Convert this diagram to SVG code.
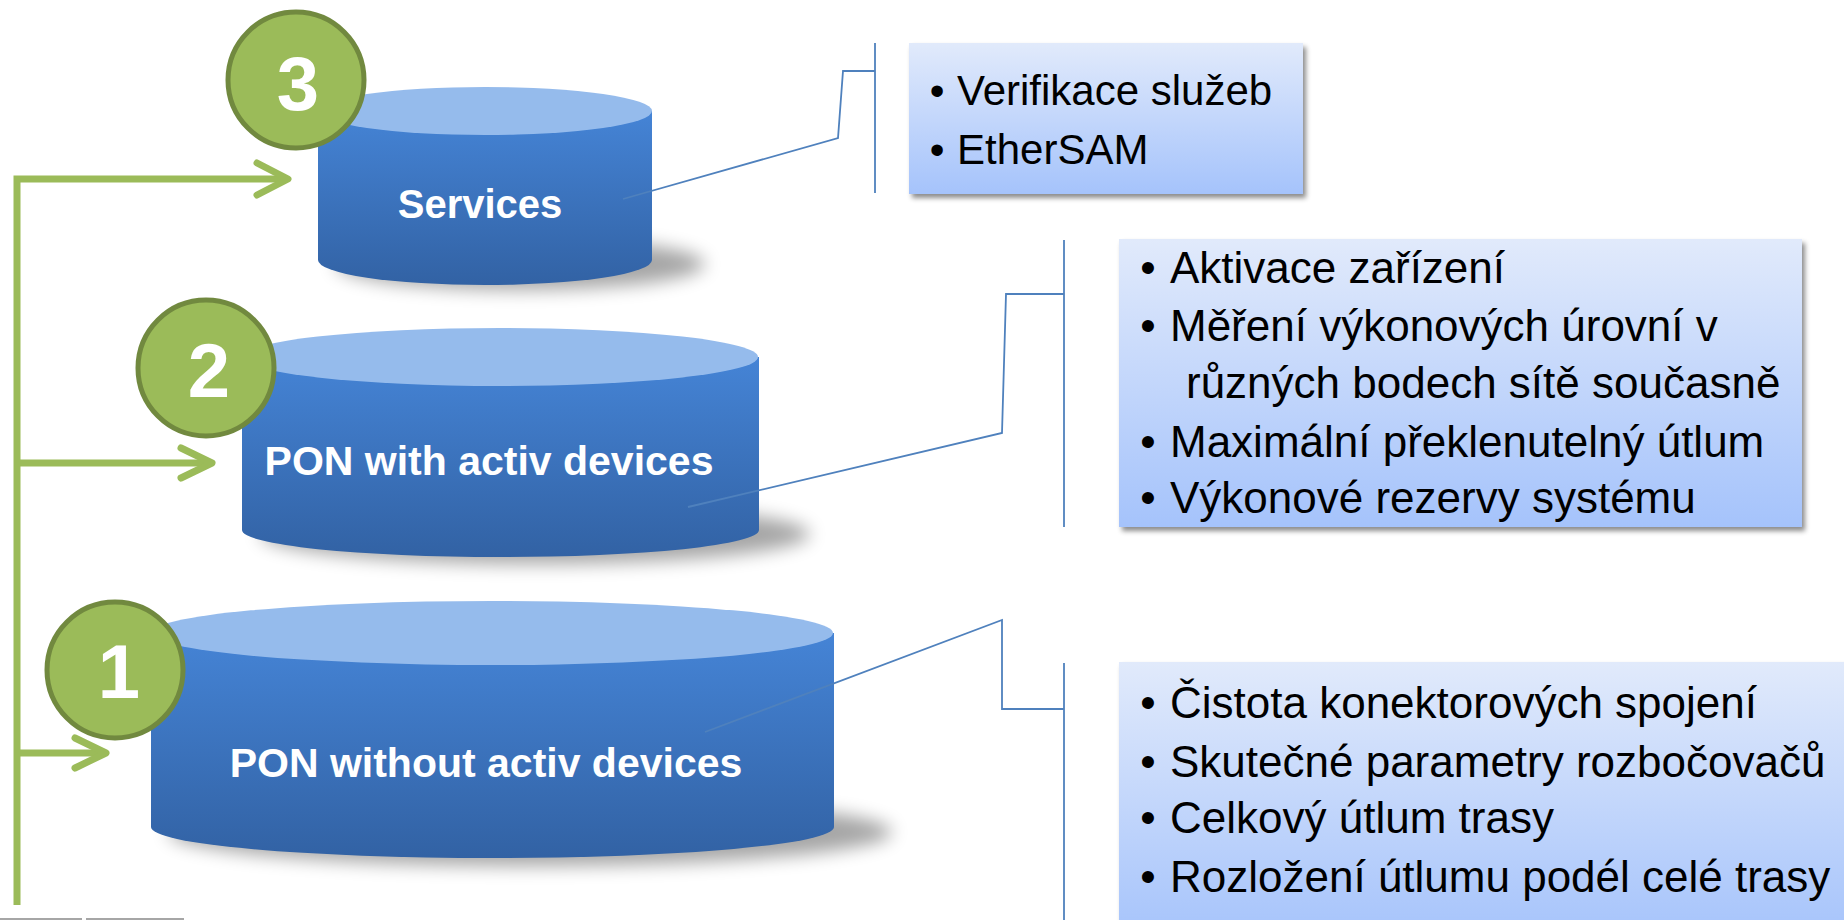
<svg xmlns="http://www.w3.org/2000/svg" width="1844" height="920" viewBox="0 0 1844 920">
  <defs>
    <linearGradient id="cylBody" x1="0" y1="0" x2="0" y2="1">
      <stop offset="0" stop-color="#4584d6"/>
      <stop offset="1" stop-color="#3262a4"/>
    </linearGradient>
    <linearGradient id="boxFill" x1="0" y1="0" x2="0" y2="1">
      <stop offset="0" stop-color="#e1eafb"/>
      <stop offset="1" stop-color="#a5c3fb"/>
    </linearGradient>
    <filter id="cylShadow" x="-30%" y="-100%" width="160%" height="300%">
      <feGaussianBlur stdDeviation="9"/>
    </filter>
    <filter id="boxShadow" x="-5%" y="-5%" width="115%" height="115%">
      <feDropShadow dx="3" dy="4" stdDeviation="2.5" flood-color="#000" flood-opacity="0.45"/>
    </filter>
  </defs>
  <style>
    .cyl-top { fill: #95bbec; }
    .cyl-body { fill: url(#cylBody); }
    .cyl-shadow { fill: #000; opacity: 0.35; filter: url(#cylShadow); }
    .cyl-label { font-family: "Liberation Sans", Arial, sans-serif; font-weight: bold; fill: #fff; text-anchor: middle; }
    .badge { fill: #9bbb59; stroke: #71893f; stroke-width: 5; }
    .badge-num { font-family: "Liberation Sans", Arial, sans-serif; font-weight: bold; font-size: 76px; fill: #fff; text-anchor: middle; }
    .flow { fill: none; stroke: #9bbb59; stroke-width: 7; }
    .flow-head { fill: none; stroke: #9bbb59; stroke-width: 7; stroke-linecap: round; stroke-linejoin: round; }
    .callout { fill: none; stroke: #4f81bd; stroke-width: 1.8; stroke-linejoin: miter; }
    .note { fill: url(#boxFill); filter: url(#boxShadow); }
    .note-text { font-family: "Liberation Sans", Arial, sans-serif; fill: #000; }
    .bullet { text-anchor: middle; }
    .edge-mark { stroke: #a6a6a6; stroke-width: 2; }
  </style>

  <!-- layer 3: Services -->
  <g id="cyl-services">
    <ellipse class="cyl-shadow" cx="520" cy="264" rx="185" ry="26"/>
    <path class="cyl-body" d="M318 111 L318 260 A167 25 0 0 0 652 260 L652 111 Z"/>
    <ellipse class="cyl-top" cx="485" cy="111" rx="167" ry="24"/>
    <text class="cyl-label" x="480" y="218" font-size="40">Services</text>
  </g>

  <!-- layer 2: PON with active devices -->
  <g id="cyl-pon-active">
    <ellipse class="cyl-shadow" cx="535" cy="534" rx="275" ry="30"/>
    <path class="cyl-body" d="M242 357 L242 530 A258 27 0 0 0 759 530 L759 357 Z"/>
    <ellipse class="cyl-top" cx="500" cy="357" rx="258" ry="29"/>
    <text class="cyl-label" x="489" y="475" font-size="41">PON with activ devices</text>
  </g>

  <!-- layer 1: PON without active devices -->
  <g id="cyl-pon-passive">
    <ellipse class="cyl-shadow" cx="530" cy="832" rx="362" ry="34"/>
    <path class="cyl-body" d="M151 633 L151 827 A341 31 0 0 0 834 827 L834 633 Z"/>
    <ellipse class="cyl-top" cx="492" cy="633" rx="341" ry="32"/>
    <text class="cyl-label" x="486" y="777" font-size="41">PON without activ devices</text>
  </g>

  <!-- numbered badges -->
  <g id="badge-3">
    <circle class="badge" cx="296" cy="80" r="68"/>
    <text class="badge-num" x="298" y="110">3</text>
  </g>
  <g id="badge-2">
    <circle class="badge" cx="206" cy="368" r="68"/>
    <text class="badge-num" x="209" y="397">2</text>
  </g>
  <g id="badge-1">
    <circle class="badge" cx="115" cy="670" r="68"/>
    <text class="badge-num" x="119" y="698">1</text>
  </g>

  <!-- note boxes -->
  <g id="note-services">
    <rect class="note" x="909" y="43" width="394" height="151"/>
    <text class="note-text bullet" x="937" y="105" font-size="42">•</text>
    <text class="note-text" x="957" y="105" font-size="42">Verifikace služeb</text>
    <text class="note-text bullet" x="937" y="164" font-size="42">•</text>
    <text class="note-text" x="957" y="164" font-size="42">EtherSAM</text>
  </g>

  <g id="note-pon-active">
    <rect class="note" x="1119" y="239" width="683" height="288"/>
    <g font-size="44">
      <text class="note-text bullet" x="1148" y="283">•</text>
      <text class="note-text" x="1170" y="283">Aktivace zařízení</text>
      <text class="note-text bullet" x="1148" y="341">•</text>
      <text class="note-text" x="1170" y="341">Měření výkonových úrovní v</text>
      <text class="note-text" x="1186" y="398">různých bodech sítě současně</text>
      <text class="note-text bullet" x="1148" y="457">•</text>
      <text class="note-text" x="1170" y="457">Maximální překlenutelný útlum</text>
      <text class="note-text bullet" x="1148" y="513">•</text>
      <text class="note-text" x="1170" y="513">Výkonové rezervy systému</text>
    </g>
  </g>

  <g id="note-pon-passive">
    <rect class="note" x="1119" y="662" width="740" height="280"/>
    <g font-size="44">
      <text class="note-text bullet" x="1148" y="718">•</text>
      <text class="note-text" x="1170" y="718">Čistota konektorových spojení</text>
      <text class="note-text bullet" x="1148" y="777">•</text>
      <text class="note-text" x="1170" y="777">Skutečné parametry rozbočovačů</text>
      <text class="note-text bullet" x="1148" y="833">•</text>
      <text class="note-text" x="1170" y="833">Celkový útlum trasy</text>
      <text class="note-text bullet" x="1148" y="892">•</text>
      <text class="note-text" x="1170" y="892">Rozložení útlumu podél celé trasy</text>
    </g>
  </g>

  <!-- connectors: green flow arrows and blue callout brackets -->
  <g id="connectors">
    <path class="flow" d="M17 905 L17 179 L286 179"/>
    <path class="flow" d="M17 463 L210 463"/>
    <path class="flow" d="M17 753 L104 753"/>
    <path class="flow-head" d="M257 163 L288 179 L257 195"/>
    <path class="flow-head" d="M181 448 L212 463 L181 478"/>
    <path class="flow-head" d="M75 738 L106 753 L75 768"/>

    <polyline class="callout" points="623,199 838,138 843,71 875,71"/>
    <line class="callout" x1="875" y1="43" x2="875" y2="193"/>
    <polyline class="callout" points="688,507 1002,433 1006,294 1064,294"/>
    <line class="callout" x1="1064" y1="240" x2="1064" y2="527"/>
    <polyline class="callout" points="705,732 1002,620 1002,709 1064,709"/>
    <line class="callout" x1="1064" y1="663" x2="1064" y2="920"/>
  </g>

  <!-- slide edge marks -->
  <line class="edge-mark" x1="0" y1="919" x2="82" y2="919"/>
  <line class="edge-mark" x1="86" y1="919" x2="184" y2="919"/>
</svg>
